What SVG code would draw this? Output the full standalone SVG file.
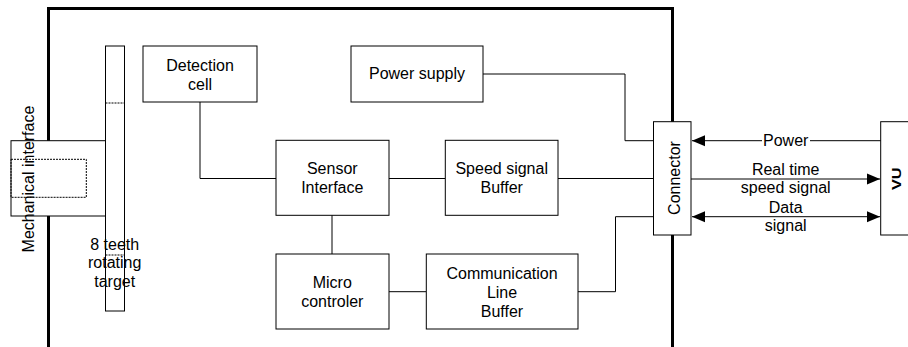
<svg xmlns="http://www.w3.org/2000/svg" width="908" height="347" viewBox="0 0 908 347">
<style>
text{font-family:"Liberation Sans",Arial,sans-serif;font-size:16px;fill:#000;text-anchor:middle}
.box{fill:#fff;stroke:#000;stroke-width:1}
.ln{fill:none;stroke:#000;stroke-width:1}
.dot{fill:none;stroke:#000;stroke-width:1;stroke-dasharray:2 1}
.frame{fill:none;stroke:#000;stroke-width:3}
</style>
<defs>
<marker id="ah" markerUnits="userSpaceOnUse" markerWidth="14" markerHeight="12" refX="13" refY="6" orient="auto-start-reverse" viewBox="0 0 14 12">
<path d="M0,0.5 L13,6 L0,11.5 Z" fill="#000"/>
</marker>
</defs>
<g id="frame"><path class="frame" d="M48.5,350 V8.5 H672.5 V350"/></g>
<g id="connectors">
<path class="ln" d="M200,102 V178.5 H276"/>
<path class="ln" d="M389,178.5 H445"/>
<path class="ln" d="M558,178.5 H654"/>
<path class="ln" d="M332,215 V254"/>
<path class="ln" d="M389,291.7 H426"/>
<path class="ln" d="M578,291.7 H615.5 V216.7 H654"/>
<path class="ln" d="M483,74 H625 V140.7 H654"/>
<path class="ln" d="M881,140.7 H692" marker-end="url(#ah)"/>
<path class="ln" d="M691,179 H880" marker-end="url(#ah)"/>
<path class="ln" d="M692,216.7 H880" marker-start="url(#ah)" marker-end="url(#ah)"/>
<rect x="762" y="131" width="48" height="18" fill="#fff"/>
<text x="785.7" y="145.8">Power</text>
<text x="785.7" y="174.8">Real time</text>
<text x="785.7" y="193.2">speed signal</text>
<text x="785.7" y="213">Data</text>
<text x="785.7" y="231">signal</text>
</g>
<g id="mechanical-interface">
<rect class="box" x="11" y="140.7" width="94.5" height="75.3"/>
<rect class="dot" x="11" y="159.3" width="75.3" height="38"/>
<text x="34" y="179" transform="rotate(-90 34 179)">Mechanical interface</text>
</g>
<g id="rotating-target">
<rect class="box" x="105.5" y="46" width="19" height="265" fill="none" style="fill:none"/>
<path class="dot" d="M105.5,103 H124.5 M105.5,255 H124.5"/>
<text x="114.7" y="249.8">8 teeth</text>
<text x="114.7" y="268">rotating</text>
<text x="114.7" y="287">target</text>
</g>
<g id="detection-cell">
<rect class="box" x="143" y="46" width="114" height="56"/>
<text x="200" y="70.5">Detection</text>
<text x="200" y="89.5">cell</text>
</g>
<g id="power-supply">
<rect class="box" x="351" y="46" width="132" height="56"/>
<text x="417" y="78.5">Power supply</text>
</g>
<g id="sensor-interface">
<rect class="box" x="276" y="140.3" width="113" height="75"/>
<text x="332.3" y="174">Sensor</text>
<text x="332.3" y="193">Interface</text>
</g>
<g id="speed-signal-buffer">
<rect class="box" x="445.3" y="140.3" width="112.7" height="75"/>
<text x="501.7" y="174">Speed signal</text>
<text x="501.7" y="193">Buffer</text>
</g>
<g id="micro-controler">
<rect class="box" x="276" y="254" width="113" height="75"/>
<text x="332.3" y="287.5">Micro</text>
<text x="332.3" y="306.5">controler</text>
</g>
<g id="communication-line-buffer">
<rect class="box" x="426.3" y="254" width="151.7" height="75"/>
<text x="502" y="279">Communication</text>
<text x="502" y="298">Line</text>
<text x="502" y="317">Buffer</text>
</g>
<g id="connector">
<rect class="box" x="653.5" y="121.7" width="37.5" height="113.3"/>
<text x="680" y="178" transform="rotate(-90 680 178)">Connector</text>
</g>
<g id="vu">
<rect class="box" x="880.7" y="121.7" width="40" height="113.3"/>
<text x="900.7" y="178.7" transform="rotate(-90 900.7 178.7)" style="font-weight:bold;font-size:12px" textLength="22.7" lengthAdjust="spacingAndGlyphs">VU</text>
</g>
</svg>
